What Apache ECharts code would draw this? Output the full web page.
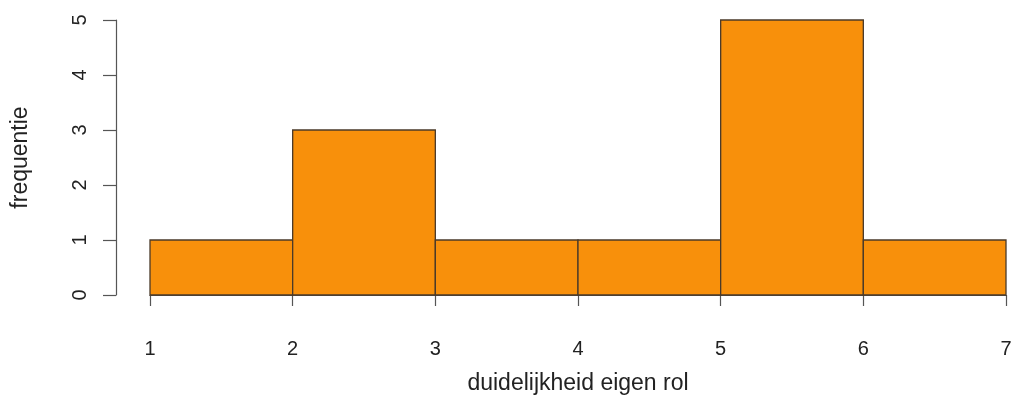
<!DOCTYPE html>
<html><head><meta charset="utf-8">
<script src="https://cdn.jsdelivr.net/npm/echarts@6/dist/echarts.min.js"></script>
<style>html,body{margin:0;padding:0;background:#fff}#c{width:1015px;height:415px}</style>
</head><body><div id="c"></div>
<script>
const binStarts = [1, 2, 3, 4, 5, 6];
const binEnds = [2, 3, 4, 5, 6, 7];
const counts = [1, 3, 1, 1, 5, 1];
const xTicks = [1, 2, 3, 4, 5, 6, 7];
const yTicks = [0, 1, 2, 3, 4, 5];
const xLabel = 'duidelijkheid eigen rol';
const yLabel = 'frequentie';

const data = binStarts.map((s, i) => [s, binEnds[i], counts[i]]);
const font = 'Liberation Sans, Arial, sans-serif';
const chart = echarts.init(document.getElementById('c'));
chart.setOption({
  animation: false,
  grid: {left: 150, right: 9, top: 20, bottom: 120},
  xAxis: {
    type: 'value', min: xTicks[0], max: xTicks[xTicks.length - 1], interval: 1, offset: 14,
    axisLine: {lineStyle: {color: '#555', width: 1.2}},
    axisTick: {length: 11, lineStyle: {color: '#555', width: 1.2}},
    axisLabel: {color: '#222', fontSize: 20, fontFamily: font, margin: 30},
    splitLine: {show: false},
    name: xLabel, nameLocation: 'middle', nameGap: 63,
    nameTextStyle: {color: '#222', fontSize: 23, fontFamily: font}
  },
  yAxis: {
    type: 'value', min: yTicks[0], max: yTicks[yTicks.length - 1], interval: 1, offset: 34,
    axisLine: {show: true, lineStyle: {color: '#555', width: 1.2}},
    axisTick: {show: true, length: 13, lineStyle: {color: '#555', width: 1.2}},
    axisLabel: {color: '#222', fontSize: 20, fontFamily: font, margin: 26, rotate: 90},
    splitLine: {show: false},
    name: yLabel, nameLocation: 'middle', nameGap: 84, nameRotate: 90,
    nameTextStyle: {color: '#222', fontSize: 23, fontFamily: font}
  },
  series: [{
    type: 'custom',
    data: data,
    encode: {x: [0, 1], y: 2},
    renderItem: function (params, api) {
      const p0 = api.coord([api.value(0), 0]);
      const p1 = api.coord([api.value(1), api.value(2)]);
      return {
        type: 'rect',
        shape: {x: p0[0], y: p1[1], width: p1[0] - p0[0], height: p0[1] - p1[1]},
        style: {fill: '#F8900B', stroke: '#4a3a2a', lineWidth: 1.3}
      };
    }
  }]
});
</script></body></html>
